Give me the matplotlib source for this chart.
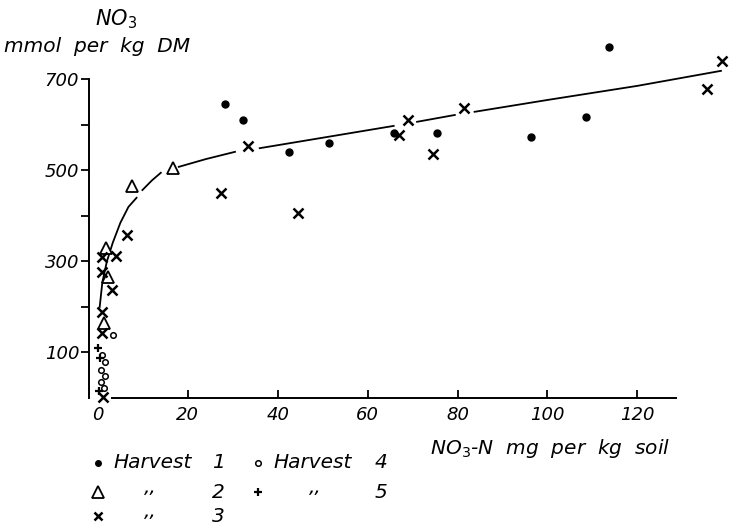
import matplotlib.pyplot as plt
import numpy as np
from matplotlib.lines import Line2D

plt.rcParams['font.family'] = 'DejaVu Sans'
plt.rcParams['mathtext.fontset'] = 'dejavusans'

# Harvest 1 (filled dots)
h1_x = [28.3, 32.2, 42.5, 51.5, 65.8, 75.4, 96.3, 108.6, 113.6]
h1_y = [646, 611, 541, 560, 582, 582, 574, 618, 771]

# Harvest 2 (open triangles)
h2_x = [16.7, 7.5, 1.8, 2.2, 1.3]
h2_y = [505, 466, 330, 266, 165]

# Harvest 3 (crosses)
h3_x = [6.5, 4.0, 1.0, 0.9, 3.1, 0.9, 0.9, 1.1, 27.4, 33.3, 44.5, 66.9, 68.9, 74.6, 81.4, 135.5, 138.8]
h3_y = [358, 312, 310, 277, 237, 189, 142, 3, 451, 554, 407, 578, 611, 536, 637, 679, 741]

# Harvest 4 (small open circles)
h4_x = [3.3, 1.0, 1.6, 0.6, 1.5, 0.8, 1.4]
h4_y = [138, 95, 78, 62, 48, 35, 22]

# Harvest 5 (plus)
h5_x = [0.0, 0.4, 0.2]
h5_y = [110, 88, 15]

# hand drawn fitted curve, broken where it passes the markers
curve_x = [0.4, 1.0, 2.0, 3.3, 5.0, 6.8, 8.6, np.nan,
           9.9, 12.0, 14.0, np.nan,
           18.0, 24.0, 30.5, np.nan,
           36.0, 50.0, 65.8, np.nan,
           71.0, 79.4, np.nan,
           83.8, 100.0, 120.0, 138.6]
curve_y = [200, 255, 300, 341, 385, 420, 440, np.nan,
           457, 478, 495, np.nan,
           508, 525, 541, np.nan,
           549, 572, 598, np.nan,
           607, 622, np.nan,
           629, 655, 686, 719]

xticks = [0, 20, 40, 60, 80, 100, 120]
yticks = [100, 300, 500, 700]
yminor = [200, 400, 600]

W, H = 734, 526
fig = plt.figure(figsize=(W / 100, H / 100), dpi=100)
ax = fig.add_axes([88.9 / W, (H - 402.5) / H, (W - 88.9) / W, 368.5 / H])
ax.set_xlim(-2, 141.5)
ax.set_ylim(-10, 800)

ax.plot(curve_x, curve_y, color='black', lw=1.3, zorder=2)

ax.plot(h1_x, h1_y, 'o', ms=5, color='black', clip_on=False, zorder=3)
ax.plot(h2_x, h2_y, '^', ms=9, mfc='white', mec='black', mew=1.3, clip_on=False, zorder=3)
ax.plot(h3_x, h3_y, 'x', ms=7, mec='black', mew=1.8, clip_on=False, zorder=4)
ax.plot(h4_x, h4_y, 'o', ms=4, mfc='white', mec='black', mew=1.1, clip_on=False, zorder=4)
ax.plot(h5_x, h5_y, '+', ms=6, mec='black', mew=1.6, clip_on=False, zorder=4)

for s in ['top', 'right']:
    ax.spines[s].set_visible(False)
ax.spines['bottom'].set_position(('data', 0))
ax.spines['left'].set_bounds(0, 700)
ax.spines['bottom'].set_bounds(3.2, 128.7)
ax.spines['left'].set_linewidth(1.4)
ax.spines['bottom'].set_linewidth(1.4)

ax.set_xticks(xticks)
ax.set_xticklabels([str(v) for v in xticks], fontsize=13, style='italic')
ax.set_yticks(yticks)
ax.set_yticklabels([str(v) for v in yticks], fontsize=13, style='italic')
ax.set_yticks(yminor, minor=True)
ax.tick_params(axis='x', direction='in', length=6, width=1.3, pad=6)
ax.tick_params(axis='y', which='both', direction='out', length=6, width=1.3, pad=1)
ax.xaxis.get_major_ticks()[0].tick1line.set_visible(False)

fs = 14.5
# axis titles
fig.text(116 / W, 1 - 19 / H, 'NO$_3$', fontsize=15, style='italic', ha='center', va='center')
fig.text(97 / W, 1 - 46 / H, 'mmol  per  kg  DM', fontsize=fs, style='italic', ha='center', va='center')
fig.text(550 / W, 1 - 448 / H, 'NO$_3$-N  mg  per  kg  soil', fontsize=fs, style='italic', ha='center', va='center')

# legend drawn as text lines
rows = [463, 492, 516]
def mark(xp, yp, **kw):
    fig.add_artist(Line2D([xp / W], [1 - yp / H], transform=fig.transFigure, color='black', **kw))

mark(98, rows[0], marker='o', ms=4)
mark(98, rows[1], marker='^', ms=8, mfc='white', mew=1.3)
mark(98, rows[2], marker='x', ms=6, mew=1.8)
mark(258, rows[0], marker='o', ms=4, mfc='white', mew=1.1)
mark(258, rows[1], marker='+', ms=6, mew=1.6)

fig.text(113 / W, 1 - rows[0] / H, 'Harvest', fontsize=fs, style='italic', va='center')
fig.text(218 / W, 1 - rows[0] / H, '1', fontsize=fs, style='italic', va='center', ha='center')
fig.text(273 / W, 1 - rows[0] / H, 'Harvest', fontsize=fs, style='italic', va='center')
fig.text(381 / W, 1 - rows[0] / H, '4', fontsize=fs, style='italic', va='center', ha='center')
fig.text(150 / W, 1 - (rows[1] + 1) / H, ',,', fontsize=fs, style='italic', va='baseline', ha='center')
fig.text(218 / W, 1 - rows[1] / H, '2', fontsize=fs, style='italic', va='center', ha='center')
fig.text(315 / W, 1 - (rows[1] + 1) / H, ',,', fontsize=fs, style='italic', va='baseline', ha='center')
fig.text(381 / W, 1 - rows[1] / H, '5', fontsize=fs, style='italic', va='center', ha='center')
fig.text(150 / W, 1 - (rows[2] + 1) / H, ',,', fontsize=fs, style='italic', va='baseline', ha='center')
fig.text(218 / W, 1 - rows[2] / H, '3', fontsize=fs, style='italic', va='center', ha='center')

fig.savefig('out.png', dpi=100)
